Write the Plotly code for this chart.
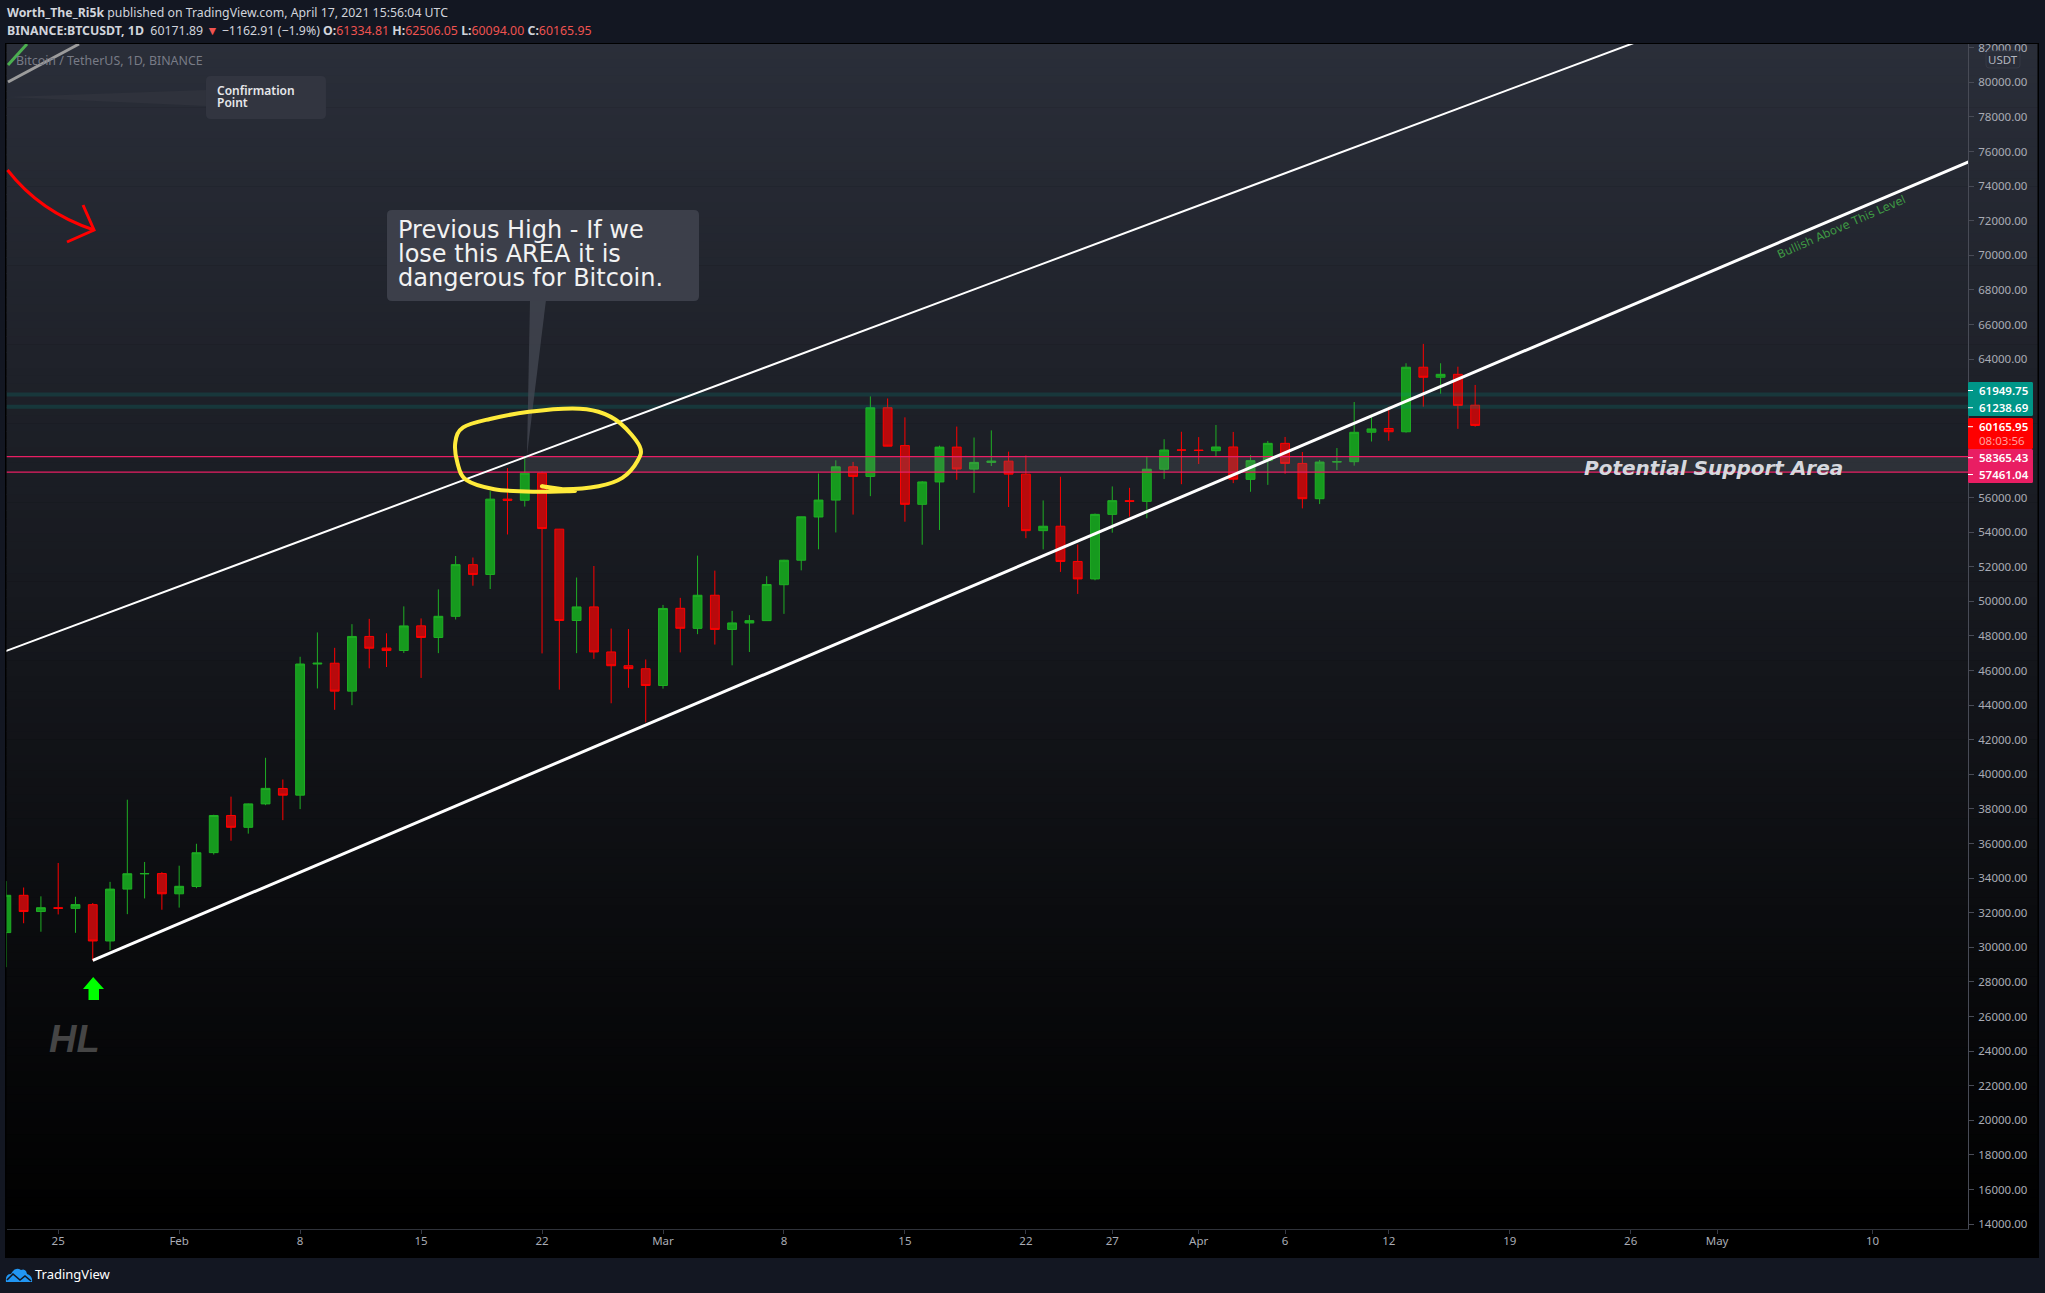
import pandas as pd
import plotly.graph_objects as go

W, H = 2045, 1293
dates = pd.date_range("2021-01-22", periods=86, freq="D")
opens = [30851,33005,32067,32289,32251,32464,30366,33364,34246,34262,
 33092,33517,35472,37620,36936,38289,39181,38795,46374,46420,44807,47968,47298,47156,48580,47911,49133,52117,51552,55906,55841,57412,54170,48891,49676,47073,46276,46103,
 45134,49595,48436,50349,48374,48746,48882,50959,52375,54874,55851,57773,57221,61188,59000,55605,56900,58912,57641,58030,58100,57351,54083,54340,52303,51293,55025,55817,55777,57635,58746,
 58739,58705,58920,57050,58130,59130,57970,55930,58050,58070,59774,59990,59800,63530,62950,63120,61334.81]
highs = [33826,33456,32946,34875,32921,32557,33783,38531,34933,34342,
 34717,35984,37662,38708,38310,40955,39700,46794,48200,47310,48678,48985,48150,49707,49010,50689,52618,52530,56368,57700,58352,57508,54183,51374,52041,48424,48394,46638,
 49790,50200,52640,51773,49448,49200,51450,52402,54895,57387,58150,58058,61844,61724,60633,56950,58999,60100,59468,59880,58650,58430,55830,57200,53287,55073,56640,56559,58400,59368,59800,
 59490,60190,59790,58450,59270,59500,58630,58170,58860,61520,60790,61250,63760,64880,63760,63560,62506.05]
lows = [28850,31390,30900,31900,30837,29241,29842,31915,32825,32171,
 32296,33418,35362,36161,36570,38215,37351,37988,44961,43727,43994,46125,46202,47014,45570,47003,48947,50901,50710,53863,55477,46988,44892,47003,46674,44106,45000,43000,
 44950,47047,48100,47500,46300,47070,48882,49274,51789,53005,53980,55013,56078,59000,54600,53271,54123,57023,56270,57820,55450,53650,53000,51700,50427,51214,53966,54897,54800,57071,56769,
 57935,58340,56830,56330,56730,57370,55370,55620,57590,57840,59235,59280,59750,61250,62000,59970,60094.00]
closes = [33005,32067,32289,32251,32467,30366,33364,34252,34262,33092,
 33526,35466,37618,36936,38290,39186,38795,46374,46420,44807,47969,47287,47153,48577,47911,49133,52119,51552,55906,55841,57408,54204,48891,49676,47073,46276,46106,45135,
 49587,48440,50349,48374,48751,48882,50971,52375,54884,55851,57773,57221,61188,58968,55605,56900,58912,57648,58030,58102,57351,54083,54340,52303,51293,55025,55817,55777,57635,58746,58740,
 58720,58920,57060,58130,59130,57970,55930,58050,58070,59770,59964,59800,63530,62950,63120,61320,60165.95]

green_levels = [61949.75, 61238.69]
pink_levels = [58365.43, 57461.04]
last_price = 60165.95
countdown = "08:03:56"
band_start = "2021-02-21"

upper_channel_x = ["2021-01-21", "2021-04-30"]
upper_channel_y = [46760, 83697]
lower_channel_x = ["2021-01-27", "2021-05-16"]
lower_channel_y = [29240, 75595]

# 58000, 60000 and 62000 sit under the price boxes in the reference, so they are not listed
price_ticks = [v for v in range(14000, 84000, 2000) if v not in (58000, 60000, 62000)]
price_labels = [f"{v}.00" for v in price_ticks]
time_ticks = ["2021-01-25","2021-02-01","2021-02-08","2021-02-15","2021-02-22","2021-03-01","2021-03-08","2021-03-15",
              "2021-03-22","2021-03-27","2021-04-01","2021-04-06","2021-04-12","2021-04-19","2021-04-26","2021-05-01","2021-05-10"]
time_labels = ["25","Feb","8","15","22","Mar","8","15","22","27","Apr","6","12","19","26","May","10"]

LEFT, RIGHT, TOP, BOTTOM = 6.5, 1968, 44, 1229
FRAME_R, FRAME_B = 2038, 1257
X0 = pd.Timestamp("2021-01-25")
def px_date(px):
    return X0 + pd.Timedelta(days=(px - 58.2) / 17.28)
def px_price(py):
    return 80000 - (py - 82.3) / 0.0173
x_range = [px_date(LEFT), px_date(RIGHT)]
y_range = [px_price(BOTTOM), px_price(TOP)]

xp = lambda x: x / W
yp = lambda y: 1 - y / H
c = lambda x, y: f"{xp(x):.5f} {yp(y):.5f}"
def path(pts, close=False):
    s = "M " + " L ".join(c(a, b) for a, b in pts)
    return s + (" Z" if close else "")
def smooth(pts):
    s = "M " + c(*pts[0])
    for i in range(len(pts) - 1):
        p0 = pts[max(i - 1, 0)]; p1 = pts[i]; p2 = pts[i + 1]; p3 = pts[min(i + 2, len(pts) - 1)]
        a = (p1[0] + (p2[0] - p0[0]) / 6, p1[1] + (p2[1] - p0[1]) / 6)
        b = (p2[0] - (p3[0] - p1[0]) / 6, p2[1] - (p3[1] - p1[1]) / 6)
        s += f" C {c(*a)} {c(*b)} {c(*p2)}"
    return s
def round_rect(x0, y0, x1, y1, r):
    return (f"M {c(x0+r,y0)} L {c(x1-r,y0)} Q {c(x1,y0)} {c(x1,y0+r)} L {c(x1,y1-r)} Q {c(x1,y1)} {c(x1-r,y1)} "
            f"L {c(x0+r,y1)} Q {c(x0,y1)} {c(x0,y1-r)} L {c(x0,y0+r)} Q {c(x0,y0)} {c(x0+r,y0)} Z")

shapes = []
def add_path(d, fill=None, line=None, width=0, layer="above"):
    s = dict(type="path", xref="paper", yref="paper", path=d, layer=layer, line=dict(width=width, color=line or "rgba(0,0,0,0)"))
    if fill: s["fillcolor"] = fill
    shapes.append(s)
def add_rect(x0, y0, x1, y1, fill, layer="above", line=None, width=0):
    shapes.append(dict(type="rect", xref="paper", yref="paper", x0=xp(x0), x1=xp(x1), y0=yp(y0), y1=yp(y1),
                       fillcolor=fill, layer=layer, line=dict(width=width, color=line or "rgba(0,0,0,0)")))

# Frame gradient
add_rect(LEFT - 1.5, TOP - 1, FRAME_R + 1, FRAME_B + 1, "#000000", layer="below")
N = 150
top_col = (42, 46, 57)
for i in range(N):
    y0 = TOP + (BOTTOM - TOP) * i / N
    y1 = TOP + (BOTTOM - TOP) * (i + 1) / N + 0.6
    t = 1 - (i + 0.5) / N
    col = "rgb(%d,%d,%d)" % tuple(round(v * t) for v in top_col)
    add_rect(LEFT, y0, FRAME_R, y1, col, layer="below")

# Stubs at the top-left
add_path(path([(27, 44), (8, 65)]), line="#4caf50", width=3)
add_path(path([(79, 44), (8, 82)]), line="#9c9c9c", width=3)

# Red arrow
add_path(f"M {c(7.5,170)} Q {c(40,212)} {c(94,230)}", line="#ff0000", width=3)
add_path(path([(83, 205), (94, 230), (67, 242)]), line="#ff0000", width=3)

# Callouts
add_path(path([(206, 90), (206, 106), (7, 97)], True), fill="#2f323c")
add_path(round_rect(206, 76, 326, 119, 5), fill="#323540")
add_path(path([(530, 300), (546, 300), (527, 455)], True), fill="rgba(70,73,84,0.75)")
add_path(round_rect(387, 210, 699, 301, 5), fill="#3c3f4a")

# Yellow loop
loop = [(1250,205),(1290,211),(1325,216),(1250,205),(1300,212),(1380,205),(1435,185),(1470,145),(1475,110),(1430,55),(1380,28),(1320,20),(1220,28),
        (1130,45),(1068,65),(1050,100),(1055,150),(1075,190),(1140,212),(1230,218),(1325,216)]
loop_px = [(a / 2.306, 400 + b / 2.376) for a, b in loop]
add_path(smooth(loop_px), line="#ffeb3b", width=4)

# Green arrow
add_path(path([(93.2, 977), (104, 989), (99, 989), (99, 1000), (88.5, 1000), (88.5, 989), (83, 989)], True), fill="#00ff00")

# Axis price boxes
add_path(round_rect(1968, 382, 2033, 416, 1.5), fill="#009688")
add_path(round_rect(1968, 418, 2033, 449, 1.5), fill="#ff0000")
add_path(round_rect(1968, 449, 2033, 483, 1.5), fill="#e91e63")
for py in (390.5, 407.7, 426.7, 457.7, 474.5):
    add_path(path([(1968, py), (1973, py)]), line="#ffffff", width=1)

# USDT box
add_path(round_rect(1986, 51, 2020, 68, 3), fill="#2a2e39", line="#353945", width=1)

# Logo
d = (f"M {c(6,1282)} Q {c(5,1274)} {c(11,1274)} Q {c(15,1266)} {c(21,1270)} Q {c(26,1268)} {c(27,1274)} "
     f"Q {c(33,1276)} {c(32,1282)} Z")
add_path(d, fill="#2196f3")
add_path(path([(7, 1280), (13, 1274), (20, 1280), (25, 1276), (31, 1281)]), line="#131722", width=1.6)

# Frame outer
shapes.append(dict(type="rect", xref="paper", yref="paper", x0=xp(LEFT - 1), x1=xp(FRAME_R), y0=yp(FRAME_B), y1=yp(TOP - 0.5),
                   line=dict(color="#000000", width=1), layer="above"))

fig = go.Figure()
fig.add_trace(go.Candlestick(
    x=dates, open=opens, high=highs, low=lows, close=closes, whiskerwidth=0,
    increasing=dict(line=dict(color="#1fae24", width=1), fillcolor="#169a1e"),
    decreasing=dict(line=dict(color="#ff0000", width=1), fillcolor="#b80a0c"),
    hoverinfo="skip", showlegend=False))

band_x = [band_start, x_range[1], x_range[1], band_start]
fig.add_trace(go.Scatter(x=band_x, y=[pink_levels[0], pink_levels[0], pink_levels[1], pink_levels[1]],
                         fill="toself", fillcolor="rgba(120,123,134,0.2)", mode="none", hoverinfo="skip", showlegend=False))
for lv in pink_levels:
    fig.add_trace(go.Scatter(x=x_range, y=[lv, lv], mode="lines", line=dict(color="#e91e63", width=1.2),
                             hoverinfo="skip", showlegend=False))
for lv in green_levels:
    fig.add_trace(go.Scatter(x=x_range, y=[lv, lv], mode="lines", line=dict(color="rgba(0,150,136,0.2)", width=4),
                             hoverinfo="skip", showlegend=False))
fig.add_trace(go.Scatter(x=upper_channel_x, y=upper_channel_y, mode="lines", line=dict(color="#ffffff", width=2),
                         hoverinfo="skip", showlegend=False))
fig.add_trace(go.Scatter(x=lower_channel_x, y=lower_channel_y, mode="lines", line=dict(color="#ffffff", width=3),
                         hoverinfo="skip", showlegend=False))

UI = "Noto Sans"
anns = []
def note(x, y, text, size=12, color="#ffffff", font=UI, xanchor="left", **kw):
    f = dict(size=size, color=color, family=font)
    for k in ("weight", "style"):
        if k in kw: f[k] = kw.pop(k)
    anns.append(dict(x=xp(x), y=yp(y), xref="paper", yref="paper", text=text, showarrow=False,
                     xanchor=xanchor, yanchor="middle", font=f, align="left", borderpad=0, **kw))

RED = "#ef5350"
sp = lambda t: f'<span style="color:{RED}">{t}</span>'
note(6, 12.5, '<b>Worth_The_Ri5k</b> published on TradingView.com, April 17, 2021 15:56:04 UTC', size=12.3, color="#d1d4dc")
note(6, 30, f'<b>BINANCE:BTCUSDT, 1D</b>  60171.89 {sp("▼")} −1162.91 (−1.9%) <b>O:</b>{sp("61334.81")} <b>H:</b>{sp("62506.05")} '
            f'<b>L:</b>{sp("60094.00")} <b>C:</b>{sp("60165.95")}', size=12.35, color="#d1d4dc")
note(15, 60, "Bitcoin / TetherUS, 1D, BINANCE", size=12.4, color="#787b86")
note(216, 90.5, "Confirmation", size=12, color="#e6e7ea", weight=600)
note(216, 102.5, "Point", size=12, color="#e6e7ea", weight=600)
for py, line in zip((230, 254, 278), ("Previous High - If we", "lose this AREA it is", "dangerous for Bitcoin.")):
    note(397, py, line, size=24, font="DejaVu Sans", color="#f2f2f2")
note(1583, 468, "Potential Support Area", size=20, font="DejaVu Sans", color="#d6d8de", weight=700, style="italic")
note(48, 1039, "HL", size=38, font="Liberation Sans", color="#454545", weight=700, style="italic")
note(2003, 59.5, "USDT", size=11.5, color="#b2b5be", xanchor="center")
note(1978, 390.7, f"{green_levels[0]:.2f}", size=11.5, weight=600)
note(1978, 407.7, f"{green_levels[1]:.2f}", size=11.5, weight=600)
note(1978, 426.7, f"{last_price:.2f}", size=11.5, weight=600)
note(1978, 440.5, countdown, size=11.5, color="#ff9e9e")
note(1978, 457.7, f"{pink_levels[0]:.2f}", size=11.5, weight=600)
note(1978, 474.7, f"{pink_levels[1]:.2f}", size=11.5, weight=600)
note(34, 1274, "TradingView", size=13, color="#ffffff")
anns.append(dict(x=xp(1841), y=yp(227), xref="paper", yref="paper", xanchor="center", yanchor="middle",
                 text="Bullish Above This Level", showarrow=False,
                 textangle=-24, font=dict(size=11.5, color="#3f9a44", family="DejaVu Sans")))

fig.update_layout(
    width=W, height=H, margin=dict(l=0, r=0, t=0, b=0, autoexpand=False), autosize=False,
    paper_bgcolor="#131722", plot_bgcolor="rgba(0,0,0,0)", showlegend=False, boxgap=0.27,
    shapes=shapes, annotations=anns, dragmode=False,
    xaxis=dict(domain=[xp(LEFT), xp(RIGHT)], type="date", range=x_range, rangeslider=dict(visible=False),
               showgrid=False, zeroline=False, showline=True, linecolor="#2f323a", linewidth=1,
               ticks="outside", ticklen=4, tickcolor="#363a45", tickmode="array", tickvals=time_ticks, ticktext=time_labels,
               ticklabelstandoff=-3,
               tickfont=dict(size=11.5, color="#a9acb5", family=UI), tickangle=0, automargin=False),
    yaxis=dict(domain=[yp(BOTTOM), yp(TOP)], side="right", range=y_range, showgrid=False, zeroline=False,
               showline=True, linecolor="#484b56", linewidth=1, ticks="outside", ticklen=5, tickcolor="#484b56",
               tickmode="array", tickvals=price_ticks, ticktext=price_labels, ticklabelstandoff=2,
               tickfont=dict(size=11.5, color="#a9acb5", family=UI), automargin=False),
)
fig.write_html("out.html", config=dict(displayModeBar=False),
               post_script="document.body.style.margin='0';document.body.style.overflow='hidden';")
